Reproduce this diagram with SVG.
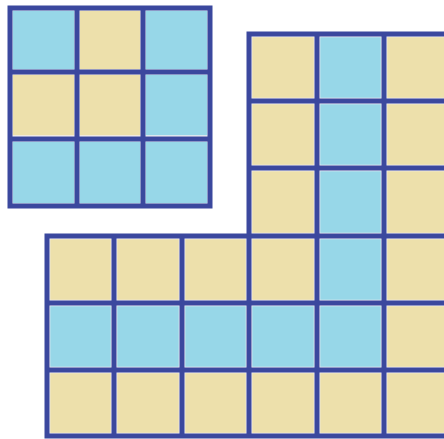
<svg xmlns="http://www.w3.org/2000/svg" width="444" height="439" viewBox="0 0 444 439">
  <style>
    .b { fill: #97d7e8; }
    .y { fill: #ede0ab; }
    .c { stroke: #f3eef2; stroke-width: 1.5; }
    .grid { fill: none; stroke: #3b489e; stroke-width: 5; stroke-linecap: square; }
  </style>
  <rect width="444" height="439" fill="#ffffff"/>
  <g id="small-grid">
    <rect class="b c" x="12" y="10" width="63" height="60"/>
    <rect class="y c" x="79" y="10" width="62" height="60"/>
    <rect class="b c" x="145" y="10" width="63" height="60"/>
    <rect class="y c" x="12" y="74" width="63" height="62"/>
    <rect class="y c" x="79" y="74" width="62" height="62"/>
    <rect class="b c" x="145" y="74" width="63" height="62"/>
    <rect class="b c" x="12" y="141" width="63" height="63"/>
    <rect class="b c" x="79" y="141" width="62" height="63"/>
    <rect class="b c" x="145" y="141" width="63" height="63"/>
    <path class="grid" d="M10 8H210V206H10Z M77 8V206 M143 8V206 M10 72H210 M10 139H210"/>
  </g>
  <g id="l-shape">
    <!-- rows 0-2 of right block -->
    <rect class="y c" x="251.5" y="36.5" width="63" height="62"/>
    <rect class="b c" x="319.5" y="36.5" width="62" height="62"/>
    <rect class="y c" x="386.5" y="36.5" width="62" height="62"/>
    <rect class="y c" x="251.5" y="103.5" width="63" height="62"/>
    <rect class="b c" x="319.5" y="103.5" width="62" height="62"/>
    <rect class="y c" x="386.5" y="103.5" width="62" height="62"/>
    <rect class="y c" x="251.5" y="170.5" width="63" height="63"/>
    <rect class="b c" x="319.5" y="170.5" width="62" height="63"/>
    <rect class="y c" x="386.5" y="170.5" width="62" height="63"/>
    <!-- row 3 -->
    <rect class="y c" x="49.5" y="238.5" width="62" height="62"/>
    <rect class="y c" x="116.5" y="238.5" width="63" height="62"/>
    <rect class="y c" x="184.5" y="238.5" width="62" height="62"/>
    <rect class="y c" x="251.5" y="238.5" width="63" height="62"/>
    <rect class="b c" x="319.5" y="238.5" width="62" height="62"/>
    <rect class="y c" x="386.5" y="238.5" width="62" height="62"/>
    <!-- row 4 -->
    <rect class="b c" x="49.5" y="305.5" width="62" height="62"/>
    <rect class="b c" x="116.5" y="305.5" width="63" height="62"/>
    <rect class="b c" x="184.5" y="305.5" width="62" height="62"/>
    <rect class="b c" x="251.5" y="305.5" width="63" height="62"/>
    <rect class="b c" x="319.5" y="305.5" width="62" height="62"/>
    <rect class="y c" x="386.5" y="305.5" width="62" height="62"/>
    <!-- row 5 -->
    <rect class="y c" x="49.5" y="372.5" width="62" height="61"/>
    <rect class="y c" x="116.5" y="372.5" width="63" height="61"/>
    <rect class="y c" x="184.5" y="372.5" width="62" height="61"/>
    <rect class="y c" x="251.5" y="372.5" width="63" height="61"/>
    <rect class="y c" x="319.5" y="372.5" width="62" height="61"/>
    <rect class="y c" x="386.5" y="372.5" width="62" height="61"/>
    <path class="grid" d="M249 236V34H452 M47 236H452 M47 303H452 M47 370H452 M47 436H452 M47 236V436 M114 236V436 M182 236V436 M249 236V436 M317 34V436 M384 34V436 M249 101H452 M249 168H452"/>
  </g>
</svg>
